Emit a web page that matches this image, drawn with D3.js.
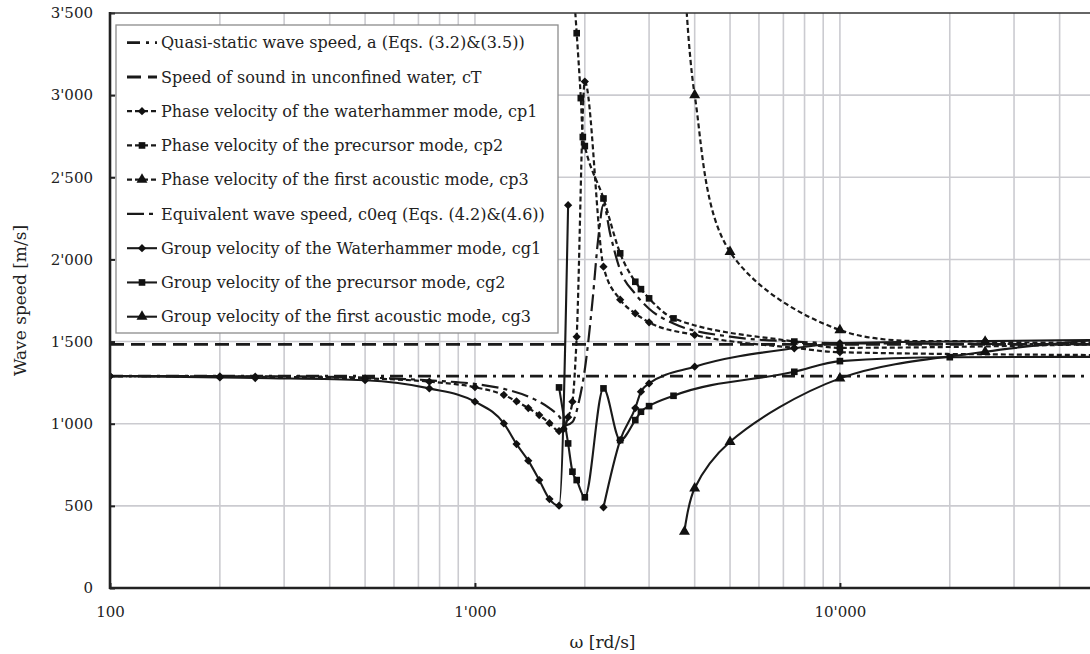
<!DOCTYPE html>
<html><head><meta charset="utf-8">
<script src="https://cdn.jsdelivr.net/npm/d3@7"></script>
<style>
html,body{margin:0;padding:0;background:#fff;}
svg{display:block;}
text{font-family:"DejaVu Serif",serif;fill:#222;}
</style></head>
<body>
<svg id="chart" width="1090" height="654"></svg>
<script>
// ---------- data (omega [rd/s], wave speed [m/s]) ----------
const xTicks = [100, 1000, 10000];
const yTicks = [0, 500, 1000, 1500, 2000, 2500, 3000, 3500];

const quasiStatic = [[100, 1290], [50000, 1290]];
const soundWater  = [[100, 1483], [50000, 1483]];

const cp1 = [[100,1290],[200,1288],[250,1286],[500,1276],[750,1256],[1000,1222],[1200,1175],[1300,1136],
  [1400,1095],[1500,1053],[1600,1003],[1700,955],[1750,968],[1800,1040],[1850,1134],[1900,1529],[2000,3083],
  [2250,1956],[2500,1755],[2750,1671],[3000,1617],[4000,1540],[7500,1462],[10000,1435],[50000,1418]];

const cp2 = [[1870,3600],[1900,3377],[1950,2982],[1975,2745],[2000,2690],[2250,2371],[2500,2037],[2750,1864],
  [2850,1819],[3000,1763],[3500,1641],[7500,1500],[10000,1462],[50000,1484]];

const cp3 = [[3760,3700],[4000,3000],[5000,2046],[10000,1570],[25000,1500],[50000,1495]];

const c0eq = [[100,1290],[300,1288],[500,1281],[800,1260],[1000,1242],[1200,1212],[1400,1165],[1600,1095],
  [1700,1045],[1775,990],[1850,1010],[1925,1130],[2000,1330],[2100,1750],[2175,2120],[2250,2335],[2350,2150],
  [2500,1935],[2750,1790],[3000,1700],[3500,1610],[5000,1530],[7500,1500],[10000,1490],[50000,1484]];

const cg1 = [[100,1290],[200,1282],[250,1278],[500,1265],[750,1215],[1000,1134],[1200,1002],[1300,876],
  [1400,775],[1500,657],[1600,541],[1700,501],[1800,2330],[2000,null],[2250,491],[2500,900],[2750,1095],
  [2850,1195],[3000,1245],[4000,1347],[7500,1459],[10000,1490],[25000,1503],[50000,1510]];

const cg2 = [[1700,1221],[1800,880],[1850,708],[1900,657],[2000,552],[2250,1215],[2500,900],[2750,1022],
  [2850,1073],[3000,1107],[3500,1170],[7500,1316],[10000,1381],[20000,1405],[50000,1407]];

const cg3 = [[3750,343],[4000,607],[5000,890],[10000,1276],[25000,1438],[50000,1509]];

const legendLabels = [
  "Quasi-static wave speed, a (Eqs. (3.2)&(3.5))",
  "Speed of sound in unconfined water, cT",
  "Phase velocity of the waterhammer mode, cp1",
  "Phase velocity of the precursor mode, cp2",
  "Phase velocity of the first acoustic mode, cp3",
  "Equivalent wave speed, c0eq (Eqs. (4.2)&(4.6))",
  "Group velocity of the Waterhammer mode, cg1",
  "Group velocity of the precursor mode, cg2",
  "Group velocity of the first acoustic mode, cg3"
];

// ---------- styles ----------
const DASH_DOT = "13,6,3,6", DASH = "14,7", SHORT = "5,3", LONG_SHORT = "17,5,4,5";
const mono = d3.curveMonotoneX, smooth = d3.curveCatmullRom.alpha(0.5);
const series = [
  {data: quasiStatic, dash: DASH_DOT, w: 2.7, marker: null, curve: mono},
  {data: soundWater,  dash: DASH,     w: 2.9, marker: null, curve: mono},
  {data: cp1, dash: SHORT, w: 2.2, marker: "diamond", curve: mono},
  {data: cp2, dash: SHORT, w: 2.2, marker: "square", curve: mono},
  {data: cp3, dash: SHORT, w: 2.2, marker: "triangle", curve: smooth},
  {data: c0eq, dash: LONG_SHORT, w: 2.2, marker: null, curve: mono},
  {data: cg1, dash: null, w: 2.1, marker: "diamond", curve: mono},
  {data: cg2, dash: null, w: 2.1, marker: "square", curve: mono},
  {data: cg3, dash: null, w: 2.1, marker: "triangle", curve: smooth}
];

// ---------- layout ----------
const L = 110, R = 1095, T = 13, B = 588;
const svg = d3.select("#chart");
const x = d3.scaleLog().domain([100, 50000]).range([L, R]);
const y = d3.scaleLinear().domain([0, 3500]).range([B, T]);
const fmt = d3.formatLocale({decimal: ".", thousands: "'", grouping: [3], currency: ["", ""]}).format(",");

// grid
const gridX = [];
[100, 1000, 10000].forEach(d => { for (let k = 1; k <= 9; k++) { const v = k * d; if (v > 100 && v < 50000) gridX.push(v); } });
svg.append("g").selectAll("line").data(gridX).join("line")
  .attr("x1", d => x(d)).attr("x2", d => x(d)).attr("y1", T).attr("y2", B)
  .attr("stroke", "#cbcbd0").attr("stroke-width", 1.6);
svg.append("g").selectAll("line").data(yTicks.filter(v => v > 0 && v < 3500)).join("line")
  .attr("x1", L).attr("x2", R).attr("y1", d => y(d)).attr("y2", d => y(d))
  .attr("stroke", "#cbcbd0").attr("stroke-width", 1.6);

// axes
const gy = svg.append("g").attr("transform", `translate(${L},0)`)
  .call(d3.axisLeft(y).tickValues(yTicks).tickFormat(fmt).tickSize(-5).tickPadding(17));
const gx = svg.append("g").attr("transform", `translate(0,${B})`)
  .call(d3.axisBottom(x).tickValues(xTicks).tickFormat(fmt).tickSize(-5).tickPadding(18));
[gx, gy].forEach(g => {
  g.select(".domain").remove();
  g.selectAll(".tick line").attr("stroke", "#222").attr("stroke-width", 2);
  g.selectAll(".tick text").attr("font-family", "DejaVu Serif").attr("font-size", 15).attr("fill", "#222");
});

// series
svg.append("clipPath").attr("id", "plotclip").append("rect")
  .attr("x", L).attr("y", T).attr("width", R - L).attr("height", B - T);
const plot = svg.append("g").attr("clip-path", "url(#plotclip)");

function markerPath(type) {
  if (type === "diamond") return d3.symbol().type(d3.symbolSquare).size(34)();
  if (type === "square") return d3.symbol().type(d3.symbolSquare).size(44)();
  return d3.symbol().type(d3.symbolTriangle).size(52)();
}
function markerRot(type) { return type === "diamond" ? " rotate(45)" : ""; }

series.forEach(s => {
  const line = d3.line().defined(d => d[1] != null).x(d => x(d[0])).y(d => y(d[1])).curve(s.curve);
  plot.append("path").attr("d", line(s.data)).attr("fill", "none").attr("stroke", "#1a1a1a")
    .attr("stroke-width", s.w).attr("stroke-dasharray", s.dash);
});
series.forEach(s => {
  if (!s.marker) return;
  plot.append("g").selectAll("path").data(s.data.filter(d => d[1] != null)).join("path")
    .attr("d", markerPath(s.marker))
    .attr("transform", d => `translate(${x(d[0])},${y(d[1])})${markerRot(s.marker)}`)
    .attr("fill", "#111");
});

// frame lines
svg.append("line").attr("x1", L).attr("x2", R).attr("y1", T).attr("y2", T).attr("stroke", "#333").attr("stroke-width", 1.5);
svg.append("line").attr("x1", L).attr("x2", L).attr("y1", T - 1).attr("y2", B + 1).attr("stroke", "#222").attr("stroke-width", 2.6);
svg.append("line").attr("x1", L - 1).attr("x2", R).attr("y1", B).attr("y2", B).attr("stroke", "#222").attr("stroke-width", 2.6);

// axis titles
svg.append("text").attr("x", (L + R) / 2).attr("y", 648).attr("text-anchor", "middle")
  .attr("font-size", 17).text("ω [rd/s]");
svg.append("text").attr("transform", `translate(26,${(T + B) / 2}) rotate(-90)`).attr("text-anchor", "middle")
  .attr("font-size", 17).text("Wave speed [m/s]");

// legend
const lg = svg.append("g");
lg.append("rect").attr("x", 116).attr("y", 25).attr("width", 442).attr("height", 308)
  .attr("fill", "#fff").attr("stroke", "#8c8c8c").attr("stroke-width", 1.3);
series.forEach((s, i) => {
  const cy = 42.7 + i * 34.25;
  lg.append("line").attr("x1", 127).attr("x2", 157).attr("y1", cy).attr("y2", cy)
    .attr("stroke", "#1a1a1a").attr("stroke-width", s.w).attr("stroke-dasharray", s.dash);
  if (s.marker) lg.append("path").attr("d", markerPath(s.marker))
    .attr("transform", `translate(142,${cy})${markerRot(s.marker)}`).attr("fill", "#111");
  lg.append("text").attr("x", 161).attr("y", cy).attr("dy", "0.35em").attr("font-size", 16)
    .text(legendLabels[i]);
});
</script>
</body></html>
